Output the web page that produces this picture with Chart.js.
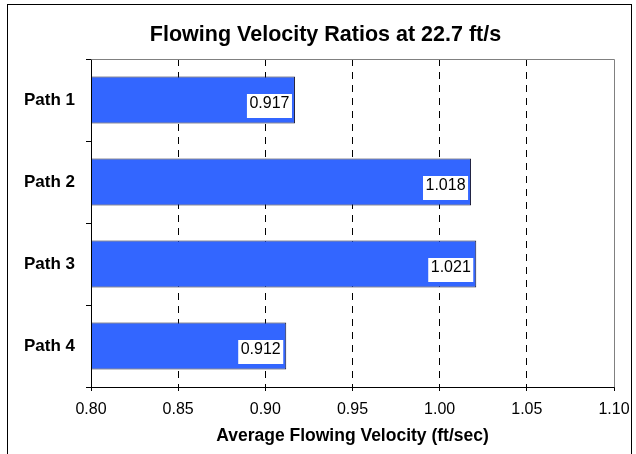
<!DOCTYPE html>
<html>
<head>
<meta charset="utf-8">
<script src="https://cdn.jsdelivr.net/npm/chart.js@4"></script>
<style>
  html, body { margin: 0; padding: 0; background: #fff; }
  #wrap { width: 636px; height: 454px; }
</style>
</head>
<body>
<div id="wrap"><canvas id="grafico" width="636" height="454"></canvas></div>
<script>
const titulo = "Flowing Velocity Ratios at 22.7 ft/s";
const tituloEje = "Average Flowing Velocity (ft/sec)";
const caminos = ["Path 1", "Path 2", "Path 3", "Path 4"];
const velocidades = [0.917, 1.018, 1.021, 0.912];
const ejeMin = 0.80;
const ejeMax = 1.10;
const ejePaso = 0.05;

const fuente = "'Liberation Sans', Arial, sans-serif";

// marco exterior, titulo y borde del area del grafico
const marco = {
    id: "marco",
    beforeDraw(chart) {
        const ctx = chart.ctx;
        ctx.save();
        ctx.fillStyle = "#fff";
        ctx.fillRect(0, 0, chart.width, chart.height);
        ctx.strokeStyle = "#000";
        ctx.lineWidth = 1;
        ctx.strokeRect(7.5, 4.5, 624, 470);
        ctx.fillStyle = "#000";
        ctx.font = "bold 21.5px " + fuente;
        ctx.textAlign = "center";
        ctx.textBaseline = "alphabetic";
        ctx.fillText(titulo, 325.5, 41);
        ctx.restore();
    },
    afterDraw(chart) {
        const a = chart.chartArea;
        const ctx = chart.ctx;
        const l = Math.round(a.left) + 0.5, r = Math.round(a.right) + 0.5;
        const t = Math.round(a.top) + 0.5, b = Math.round(a.bottom) + 0.5;
        ctx.save();
        ctx.lineWidth = 1;
        ctx.strokeStyle = "#808080";
        ctx.beginPath();
        ctx.moveTo(l, t);
        ctx.lineTo(r, t);
        ctx.lineTo(r, b);
        ctx.stroke();
        ctx.strokeStyle = "#000";
        ctx.beginPath();
        ctx.moveTo(l, t);
        ctx.lineTo(l, b);
        ctx.lineTo(r, b);
        ctx.stroke();
        ctx.restore();
    }
};

// etiquetas de valor con fondo blanco al final de cada barra
const etiquetas = {
    id: "etiquetas",
    afterDatasetsDraw(chart) {
        const ctx = chart.ctx;
        const meta = chart.getDatasetMeta(0);
        ctx.save();
        ctx.font = "16px " + fuente;
        ctx.textBaseline = "alphabetic";
        ctx.textAlign = "right";
        meta.data.forEach((barra, i) => {
            const texto = velocidades[i].toFixed(3);
            const ancho = ctx.measureText(texto).width;
            const derecha = barra.x - 3;
            ctx.fillStyle = "#fff";
            ctx.fillRect(derecha - ancho - 5, barra.y - 6, ancho + 5, 24);
            ctx.fillStyle = "#000";
            ctx.fillText(texto, derecha - 2.5, barra.y + 7.5);
        });
        ctx.restore();
    }
};

const ctx = document.getElementById("grafico").getContext("2d");
const grafico = new Chart(ctx, {
    type: "bar",
    data: {
        labels: caminos,
        datasets: [{
            data: velocidades,
            backgroundColor: "#3366FF",
            borderColor: "#1a1a33",
            borderWidth: 1,
            borderSkipped: false,
            barPercentage: 0.573,
            categoryPercentage: 1
        }]
    },
    options: {
        indexAxis: "y",
        responsive: false,
        animation: false,
        devicePixelRatio: 1,
        layout: { padding: { left: 11, right: 22, top: 59, bottom: 7 } },
        plugins: {
            legend: { display: false },
            title: { display: false },
            tooltip: { enabled: false }
        },
        scales: {
            x: {
                min: ejeMin,
                max: ejeMax,
                afterFit: (escala) => {
                    escala.height = 60;
                    escala.paddingLeft = 0;
                    escala.paddingRight = 0;
                },
                afterBuildTicks: (escala) => {
                    const marcas = [];
                    for (let v = ejeMin; v <= ejeMax + 1e-9; v += ejePaso) {
                        marcas.push({ value: Math.round(v * 100) / 100 });
                    }
                    escala.ticks = marcas;
                },
                ticks: {
                    color: "#000",
                    font: { family: fuente, size: 16 },
                    padding: 9,
                    maxRotation: 0,
                    callback: (v) => Number(v).toFixed(2)
                },
                grid: {
                    color: (c) => (c.index === 0 || c.index === 6) ? "rgba(0,0,0,0)" : "#000",
                    lineWidth: 1,
                    drawTicks: true,
                    tickLength: 4,
                    tickColor: "#000"
                },
                border: { display: false, dash: [7, 6] },
                title: {
                    display: true,
                    text: tituloEje,
                    color: "#000",
                    font: { family: fuente, size: 17.5, weight: "bold" },
                    padding: { top: 2, bottom: 0 }
                }
            },
            y: {
                afterFit: (escala) => { escala.width = 80; },
                ticks: {
                    color: "#000",
                    font: { family: fuente, size: 17, weight: "bold" },
                    padding: 11
                },
                grid: {
                    offset: true,
                    color: "rgba(0,0,0,0)",
                    drawTicks: true,
                    tickLength: 5,
                    tickColor: "#000"
                },
                border: { display: false }
            }
        }
    },
    plugins: [marco, etiquetas]
});
</script>
</body>
</html>
